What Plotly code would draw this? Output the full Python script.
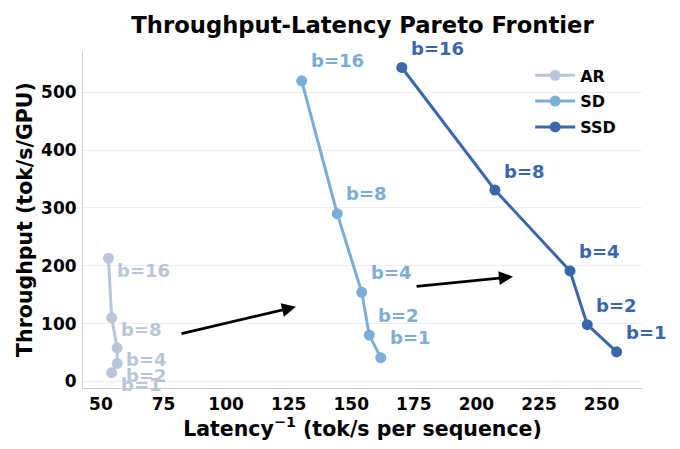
import plotly.graph_objects as go

# batch sizes, one point per batch size
batches = [1, 2, 4, 8, 16]
labels = ['b=' + str(b) for b in batches]

# latency^-1 (tok/s per sequence) and throughput (tok/s/GPU)
ar_x = [54.3, 56.5, 56.5, 54.3, 53.0]
ar_y = [15, 31, 58, 110, 213]
sd_x = [161.8, 157.2, 154.2, 144.4, 130.2]
sd_y = [41, 80, 154, 290, 520]
ssd_x = [256.0, 244.3, 237.4, 207.4, 170.2]
ssd_y = [51, 98, 191, 331, 543]

# arrows: (tail_x, tail_y, head_x, head_y)
arrows = [(81.6, 82, 127.9, 129), (175.5, 164, 214.6, 181)]

x_ticks = [50, 75, 100, 125, 150, 175, 200, 225, 250]
y_ticks = [0, 100, 200, 300, 400, 500]

FONT = 'DejaVu Sans'
series = [
    ('AR', ar_x, ar_y, '#b9c6d8', -12),
    ('SD', sd_x, sd_y, '#7badd8', 20),
    ('SSD', ssd_x, ssd_y, '#3a66ad', 19),
]

fig = go.Figure()
annotations = []

for name, xs, ys, col, yshift in series:
    fig.add_trace(go.Scatter(x=xs, y=ys, mode='lines+markers', name=name,
                             legendgroup=name,
                             line={'color': col, 'width': 3},
                             marker={'color': col, 'size': 11}))
    for lx, ly, lt in zip(xs, ys, labels):
        annotations.append(dict(x=lx, y=ly, text=lt, showarrow=False,
                                xanchor='left', yanchor='middle',
                                xshift=7, yshift=yshift,
                                font={'family': FONT, 'size': 18,
                                      'color': col, 'weight': 'bold'}))

for tx, ty, hx, hy in arrows:
    annotations.append(dict(x=hx, y=hy, ax=tx, ay=ty, xref='x', yref='y',
                            axref='x', ayref='y', text='', showarrow=True,
                            arrowhead=2, arrowsize=1, arrowwidth=2.8,
                            arrowcolor='black'))

axis_font = {'family': FONT, 'size': 17, 'color': 'black', 'weight': 'bold'}
title_font = {'family': FONT, 'size': 20.5, 'color': 'black', 'weight': 'bold'}

# the page body adds an 8px margin, so the figure is 8px smaller
W, H = 672, 441
fig.update_layout(
    width=W, height=H,
    margin={'l': 75, 'r': 38, 't': 43, 'b': 61},
    paper_bgcolor='white', plot_bgcolor='white',
    title={'text': 'Throughput-Latency Pareto Frontier',
           'x': 0.5, 'xref': 'paper', 'xanchor': 'center',
           'y': 1 - 17 / H, 'yanchor': 'middle',
           'font': {'family': FONT, 'size': 22.7, 'color': 'black', 'weight': 'bold'}},
    legend={'x': 0.8, 'y': 0.978, 'xanchor': 'left', 'yanchor': 'top',
            'bgcolor': 'rgba(0,0,0,0)', 'traceorder': 'grouped',
            'tracegroupgap': 2, 'itemwidth': 40,
            'font': {'family': FONT, 'size': 16, 'color': 'black', 'weight': 'bold'}},
    annotations=annotations,
)

fig.update_xaxes(range=[42.85, 266.15], tickvals=x_ticks, showgrid=False,
                 zeroline=False, showline=True, linecolor='#cccccc', linewidth=1,
                 ticks='', ticklabelstandoff=1, tickfont=axis_font,
                 automargin=False,
                 title={'text': 'Latency<sup>−1</sup> (tok/s per sequence)',
                        'font': title_font, 'standoff': 2})
fig.update_yaxes(range=[-11.5, 571.5], tickvals=y_ticks, showgrid=True,
                 gridcolor='#eeeeee', gridwidth=1, zeroline=False,
                 showline=True, linecolor='#cccccc', linewidth=1,
                 ticks='', ticklabelstandoff=2, tickfont=axis_font,
                 automargin=False,
                 title={'text': 'Throughput (tok/s/GPU)',
                        'font': title_font, 'standoff': 2})

fig.write_html('out.html')
